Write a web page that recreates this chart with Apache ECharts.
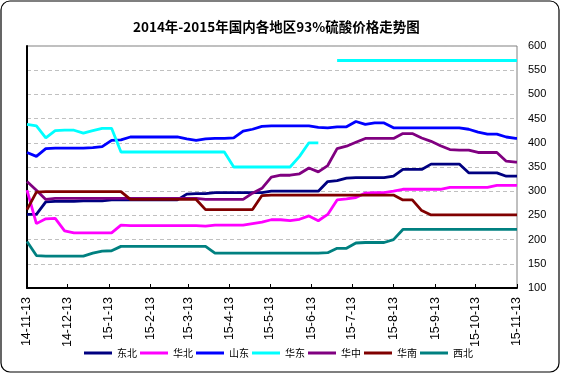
<!DOCTYPE html>
<html>
<head>
<meta charset="utf-8">
<script src="https://cdn.jsdelivr.net/npm/echarts@6/dist/echarts.min.js"></script>
<style>
html,body{margin:0;padding:0;background:#fff;}
#chart{width:561px;height:374px;}
</style>
</head>
<body>
<div id="chart"></div>
<script>
// Sample dates (weekly readings)
var dates = [
  '2014-11-13','2014-11-20','2014-11-27','2014-12-04','2014-12-11','2014-12-18','2014-12-25',
  '2015-01-01','2015-01-08','2015-01-15','2015-01-22','2015-01-29','2015-02-05','2015-02-12',
  '2015-02-19','2015-02-26','2015-03-05','2015-03-12','2015-03-19','2015-03-26','2015-04-02',
  '2015-04-09','2015-04-16','2015-04-23','2015-04-30','2015-05-07','2015-05-14','2015-05-21',
  '2015-05-28','2015-06-04','2015-06-11','2015-06-18','2015-06-25','2015-07-02','2015-07-09',
  '2015-07-16','2015-07-23','2015-07-30','2015-08-06','2015-08-13','2015-08-20','2015-08-27',
  '2015-09-03','2015-09-10','2015-09-17','2015-09-24','2015-10-01','2015-10-08','2015-10-15',
  '2015-10-22','2015-10-29','2015-11-05','2015-11-12','2015-11-13'
];
// Tick dates on the x axis
var tickDates = [
  '2014-11-13','2014-12-13','2015-01-13','2015-02-13','2015-03-13','2015-04-13','2015-05-13',
  '2015-06-13','2015-07-13','2015-08-13','2015-09-13','2015-10-13','2015-11-13'
];
var seriesNames = ['东北','华北','山东','华东','华中','华南','西北'];

var dongbei = [252,252,278,279,279,279,280,280,280,282,282,282,282,282,282,282,282,294,295,295,
  297,297,297,297,297,297,300,300,300,300,300,300,320,322,327,328,328,328,328,331,
  345,345,345,356,356,356,356,338,338,338,338,331,331,331];
var huabei = [302,233,243,244,218,214,214,214,214,214,230,229,229,229,229,229,229,229,229,228,
  230,230,230,230,233,236,241,241,239,242,249,239,252,282,284,287,296,297,297,300,
  304,304,304,304,304,308,308,308,308,308,312,312,312,312];
var shandong = [380,372,388,389,389,389,389,390,392,405,406,412,412,412,412,412,412,408,405,408,
  409,409,410,424,428,434,435,435,435,435,435,432,431,433,433,444,438,441,441,431,
  431,431,431,431,431,431,431,428,422,418,418,412,409,409];
var huadong = [438,435,410,425,426,426,420,425,430,430,381,381,381,381,381,381,381,381,381,381,
  381,381,350,350,350,350,350,350,350,372,400,400,null,570,570,570,570,570,570,570,
  570,570,570,570,570,570,570,570,570,570,570,570,570,570];
var huazhong = [320,302,283,285,285,285,285,285,285,285,285,285,285,285,285,285,285,285,285,283,
  283,283,283,283,296,306,329,333,333,336,348,340,353,388,393,401,409,409,409,409,
  419,419,410,403,394,386,385,385,380,380,380,362,360,360];
var huanan = [262,298,299,299,299,299,299,299,299,299,299,283,283,283,283,283,283,283,283,262,
  262,262,262,262,262,291,292,292,292,292,292,292,292,292,292,292,292,292,292,292,
  282,282,260,251,251,251,251,251,251,251,251,251,251,251];
var xibei = [196,167,166,166,166,166,166,172,176,177,186,186,186,186,186,186,186,186,186,186,
  172,172,172,172,172,172,172,172,172,172,172,172,173,182,182,193,194,194,194,200,
  221,221,221,221,221,221,221,221,221,221,221,221,221,221];

var seriesValues = [dongbei, huabei, shandong, huadong, huazhong, huanan, xibei];
var seriesColors = ['#000080','#FF00FF','#0000FF','#00FFFF','#800080','#800000','#008080'];

function toTime(s){
  var p = s.split('-');
  return new Date(+p[0], +p[1]-1, +p[2]).getTime();
}
var dateTimes = dates.map(toTime);
var tickTimes = tickDates.map(toTime);

var series = seriesNames.map(function(name, i){
  return {
    name: name,
    type: 'line',
    xAxisIndex: 0,
    yAxisIndex: 0,
    data: seriesValues[i].map(function(v, j){ return [dateTimes[j], v == null ? '-' : v]; }),
    showSymbol: false,
    symbol: 'none',
    connectNulls: false,
    lineStyle: {color: seriesColors[i], width: 2.8},
    itemStyle: {color: seriesColors[i]},
    animation: false,
    z: 3
  };
});

var chart = echarts.init(document.getElementById('chart'), null, {renderer: 'canvas'});
chart.setOption({
  animation: false,
  backgroundColor: '#fff',
  title: {
    text: '2014年-2015年国内各地区93%硫酸价格走势图',
    left: 128,
    top: 15,
    textStyle: {fontFamily: 'Noto Sans CJK SC', fontSize: 13.5, fontWeight: 'bold', color: '#000'}
  },
  graphic: [{
    type: 'rect',
    shape: {x: 1, y: 1, width: 558, height: 371, r: 9},
    style: {fill: 'none', stroke: '#000', lineWidth: 1.2},
    silent: true,
    z: 0
  }],
  legend: {
    data: seriesNames,
    left: 84,
    top: 348,
    padding: 0,
    itemWidth: 28,
    itemHeight: 3,
    itemGap: 3,
    icon: 'rect',
    textStyle: {fontFamily: 'Noto Sans CJK SC', fontSize: 10, color: '#000'}
  },
  grid: {
    left: 27, top: 46, width: 490, height: 242,
    show: true, borderColor: '#808080', borderWidth: 1, backgroundColor: '#fff'
  },
  xAxis: {
    type: 'value',
    min: tickTimes[0],
    max: tickTimes[tickTimes.length - 1],
    axisLine: {show: true, onZero: false, lineStyle: {color: '#000', width: 2}},
    axisTick: {show: true, inside: true, length: 4, customValues: tickTimes, lineStyle: {color: '#000', width: 1}},
    axisLabel: {
      show: true,
      customValues: tickTimes,
      rotate: 90,
      margin: 9,
      fontFamily: 'Liberation Sans',
      fontSize: 12.5,
      color: '#000',
      hideOverlap: false,
      showMinLabel: true,
      showMaxLabel: true,
      formatter: function(v){
        var d = new Date(v);
        return String(d.getFullYear()).slice(2) + '-' + (d.getMonth()+1) + '-' + d.getDate();
      }
    },
    splitLine: {show: false}
  },
  yAxis: [{
    type: 'value',
    position: 'right',
    min: 100, max: 600, interval: 50,
    axisLine: {show: false},
    axisTick: {show: false},
    axisLabel: {fontFamily: 'Liberation Sans', fontSize: 11, color: '#000', margin: 11},
    splitLine: {show: true, lineStyle: {color: '#c0c0c0', type: [4, 3], width: 1}}
  }, {
    type: 'value',
    position: 'left',
    min: 100, max: 600, interval: 50,
    axisLine: {show: true, onZero: false, lineStyle: {color: '#000', width: 2}},
    axisTick: {show: false},
    axisLabel: {show: false},
    splitLine: {show: false}
  }],
  series: series
});
</script>
</body>
</html>
